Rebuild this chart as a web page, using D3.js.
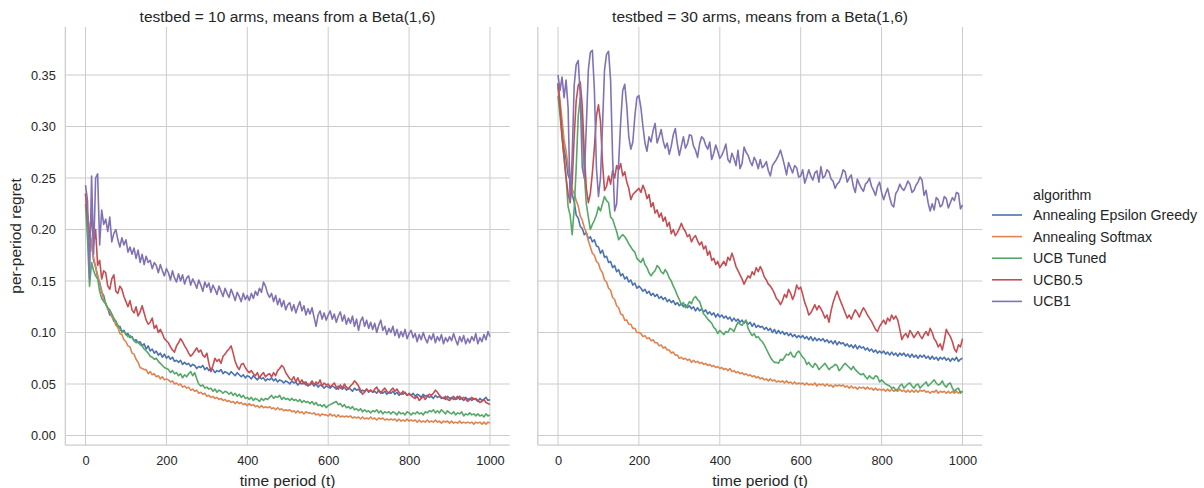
<!DOCTYPE html>
<html>
<head>
<meta charset="utf-8">
<script src="https://cdn.jsdelivr.net/npm/d3@7"></script>
<style>
  body { margin: 0; background: #fff; }
  svg { display: block; }
  text { font-family: "Liberation Sans", Arial, sans-serif; fill: #262626; }
</style>
</head>
<body>
<svg id="chart" width="1204" height="488"></svg>
<script>
// time periods at which the running regret is sampled (every 5 steps)
const periods = d3.range(0, 1001, 5);

const algorithms = ["Annealing Epsilon Greedy", "Annealing Softmax", "UCB Tuned", "UCB0.5", "UCB1"];
const panelTitles = ["testbed = 10 arms, means from a Beta(1,6)", "testbed = 30 arms, means from a Beta(1,6)"];
const xTicks = [0, 200, 400, 600, 800, 1000];
const yTicks = [0, 0.05, 0.10, 0.15, 0.20, 0.25, 0.30, 0.35];

// ---- 10 arms ----
const epsGreedy10 = [0.222,0.214,0.196,0.187,0.170,0.164,0.153,0.149,0.139,0.136,0.127,0.124,0.117,0.117,0.111,0.111,0.105,0.106,0.101,0.102,0.098,0.099,0.095,0.096,0.092,0.093,0.090,0.091,0.087,0.089,0.084,0.087,0.082,0.084,0.080,0.082,0.078,0.080,0.076,0.079,0.075,
  0.077,0.074,0.076,0.072,0.073,0.071,0.073,0.069,0.071,0.069,
  0.070,0.067,0.069,0.068,0.065,0.067,0.066,0.068,0.064,0.066,
  0.063,0.065,0.064,0.061,0.063,0.062,0.064,0.060,0.062,0.061,
  0.059,0.062,0.060,0.058,0.061,0.059,0.057,0.059,0.056,0.058,
  0.057,0.055,0.058,0.056,0.054,0.057,0.055,0.056,0.053,0.055,
  0.054,0.056,0.053,0.055,0.052,0.054,0.053,0.051,0.053,0.052,
  0.050,0.053,0.051,0.052,0.049,0.051,0.050,0.052,0.049,0.050,
  0.049,0.051,0.048,0.050,0.047,0.049,0.048,0.046,0.048,0.047,
  0.046,0.048,0.047,0.045,0.048,0.046,0.045,0.047,0.044,0.046,
  0.045,0.043,0.046,0.044,0.045,0.042,0.044,0.043,0.045,0.042,
  0.044,0.042,0.043,0.041,0.044,0.042,0.041,0.043,0.040,0.042,
  0.041,0.043,0.040,0.042,0.039,0.041,0.040,0.042,0.039,0.040,
  0.039,0.041,0.038,0.040,0.039,0.037,0.040,0.038,0.039,0.037,
  0.038,0.036,0.039,0.037,0.038,0.036,0.037,0.035,0.038,0.036,
  0.037,0.035,0.036,0.038,0.035,0.036,0.034,0.037,0.035,0.036,
  0.034,0.036,0.035,0.033,0.036,0.034,0.035,0.037,0.034,0.035];
const softmax10 = [0.235,0.214,0.201,0.184,0.173,0.163,0.156,0.147,0.141,0.131,0.129,0.122,0.121,0.115,0.113,0.107,0.105,0.099,0.098,0.093,0.091,0.087,0.086,0.080,0.079,0.074,0.071,0.066,0.065,0.064,0.064,0.060,0.062,0.059,0.060,0.057,0.058,0.055,0.057,0.054,0.055,
  0.054,0.052,0.053,0.050,0.051,0.049,0.050,0.047,0.048,0.046,
  0.047,0.044,0.045,0.043,0.044,0.041,0.042,0.040,0.041,0.038,
  0.039,0.037,0.038,0.036,0.037,0.035,0.036,0.034,0.035,0.033,
  0.034,0.032,0.033,0.031,0.033,0.031,0.032,0.030,0.031,0.029,
  0.031,0.029,0.030,0.028,0.029,0.027,0.029,0.027,0.028,0.027,
  0.028,0.026,0.027,0.025,0.027,0.025,0.026,0.024,0.025,0.024,
  0.025,0.023,0.024,0.022,0.024,0.022,0.023,0.021,0.023,0.022,
  0.022,0.021,0.022,0.020,0.021,0.019,0.021,0.020,0.020,0.019,
  0.021,0.019,0.020,0.018,0.020,0.018,0.019,0.018,0.019,0.018,
  0.019,0.017,0.018,0.017,0.018,0.016,0.018,0.016,0.017,0.016,
  0.018,0.016,0.017,0.015,0.017,0.016,0.017,0.015,0.016,0.015,
  0.016,0.015,0.016,0.014,0.016,0.014,0.015,0.014,0.016,0.014,
  0.015,0.014,0.015,0.013,0.015,0.013,0.014,0.013,0.015,0.013,
  0.014,0.013,0.015,0.013,0.014,0.012,0.014,0.013,0.014,0.012,
  0.014,0.012,0.013,0.012,0.014,0.012,0.013,0.012,0.013,0.012,
  0.013,0.011,0.013,0.012,0.013,0.011,0.013,0.011,0.013,0.012];
const ucbTuned10 = [0.225,0.190,0.145,0.168,0.160,0.155,0.152,0.140,0.133,0.130,0.128,0.124,0.122,0.118,0.114,0.111,0.107,0.104,0.100,0.101,0.098,0.096,0.097,0.095,0.092,0.090,0.091,0.088,0.087,0.084,0.082,0.080,0.077,0.076,0.074,0.075,0.072,0.070,0.068,0.066,0.065,
  0.064,0.061,0.063,0.060,0.061,0.058,0.060,0.056,0.059,0.057,
  0.060,0.062,0.058,0.061,0.055,0.050,0.048,0.049,0.046,0.047,
  0.045,0.046,0.043,0.045,0.042,0.044,0.043,0.041,0.043,0.042,
  0.040,0.042,0.039,0.041,0.038,0.040,0.037,0.039,0.036,0.037,
  0.035,0.037,0.034,0.036,0.035,0.033,0.036,0.034,0.036,0.035,
  0.037,0.039,0.036,0.038,0.037,0.039,0.035,0.037,0.035,0.036,
  0.034,0.036,0.034,0.035,0.033,0.035,0.032,0.034,0.032,0.033,
  0.031,0.033,0.030,0.032,0.029,0.030,0.028,0.030,0.027,0.029,
  0.030,0.031,0.032,0.033,0.030,0.031,0.028,0.030,0.027,0.028,
  0.026,0.028,0.025,0.026,0.024,0.026,0.023,0.025,0.023,0.024,
  0.022,0.024,0.023,0.025,0.022,0.024,0.021,0.023,0.022,0.023,
  0.021,0.023,0.022,0.020,0.023,0.021,0.022,0.020,0.023,0.022,
  0.020,0.022,0.021,0.023,0.021,0.022,0.020,0.023,0.022,0.024,
  0.023,0.025,0.022,0.024,0.022,0.025,0.023,0.021,0.024,0.022,
  0.021,0.023,0.020,0.022,0.021,0.023,0.019,0.021,0.020,0.022,
  0.020,0.021,0.019,0.021,0.019,0.020,0.018,0.021,0.019,0.020];
const ucbHalf10 = [0.235,0.210,0.190,0.215,0.185,0.200,0.165,0.170,0.152,0.160,0.158,0.145,0.142,0.152,0.156,0.140,0.138,0.145,0.142,0.135,0.130,0.125,0.131,0.122,0.119,0.125,0.116,0.120,0.126,0.119,0.112,0.108,0.110,0.114,0.104,0.107,0.100,0.103,0.099,0.094,0.092,
  0.090,0.086,0.083,0.081,0.087,0.090,0.094,0.091,0.087,0.084,
  0.080,0.077,0.079,0.082,0.085,0.081,0.083,0.078,0.076,0.080,
  0.070,0.062,0.068,0.075,0.072,0.074,0.070,0.077,0.079,0.082,
  0.084,0.087,0.080,0.072,0.067,0.064,0.069,0.070,0.066,0.063,
  0.061,0.063,0.060,0.058,0.061,0.056,0.059,0.061,0.057,0.059,
  0.060,0.057,0.061,0.058,0.063,0.065,0.068,0.066,0.061,0.058,
  0.055,0.054,0.057,0.052,0.056,0.051,0.054,0.050,0.052,0.048,
  0.050,0.053,0.049,0.052,0.050,0.054,0.048,0.051,0.049,0.050,
  0.047,0.049,0.051,0.047,0.045,0.049,0.046,0.050,0.047,0.045,
  0.048,0.050,0.053,0.051,0.048,0.044,0.040,0.042,0.045,0.043,
  0.044,0.042,0.045,0.047,0.043,0.041,0.044,0.046,0.043,0.041,
  0.044,0.046,0.043,0.045,0.042,0.040,0.043,0.041,0.039,0.041,
  0.039,0.037,0.036,0.038,0.034,0.036,0.038,0.035,0.038,0.040,
  0.039,0.041,0.044,0.042,0.039,0.037,0.036,0.038,0.035,0.034,
  0.036,0.038,0.035,0.036,0.038,0.036,0.037,0.035,0.033,0.035,
  0.037,0.035,0.036,0.034,0.032,0.033,0.035,0.032,0.031,0.030];
const ucb1_10 = [0.243,0.228,0.152,0.252,0.176,0.250,0.254,0.185,0.219,0.205,0.210,0.198,0.212,0.188,0.196,0.200,0.190,0.183,0.192,0.185,0.190,0.178,0.183,0.176,0.182,0.172,0.180,0.168,0.176,0.166,0.174,0.168,0.170,0.162,0.168,0.165,0.158,0.166,0.160,0.155,0.162,
  0.158,0.151,0.160,0.153,0.149,0.157,0.150,0.156,0.147,0.153,
  0.155,0.146,0.152,0.148,0.143,0.151,0.146,0.140,0.149,0.144,
  0.148,0.139,0.146,0.142,0.137,0.145,0.140,0.135,0.143,0.138,
  0.134,0.142,0.137,0.131,0.139,0.135,0.130,0.138,0.132,0.136,
  0.131,0.138,0.133,0.140,0.136,0.143,0.139,0.149,0.145,0.138,
  0.134,0.138,0.130,0.136,0.127,0.133,0.125,0.131,0.122,0.127,
  0.129,0.121,0.127,0.119,0.125,0.130,0.121,0.126,0.117,0.123,
  0.118,0.124,0.115,0.106,0.117,0.121,0.113,0.119,0.112,0.117,
  0.121,0.113,0.118,0.110,0.116,0.120,0.111,0.117,0.108,0.114,
  0.109,0.116,0.106,0.113,0.102,0.111,0.115,0.106,0.112,0.104,
  0.110,0.103,0.109,0.100,0.107,0.112,0.102,0.106,0.098,0.104,
  0.100,0.106,0.097,0.103,0.095,0.101,0.096,0.103,0.094,0.099,
  0.102,0.095,0.099,0.091,0.098,0.093,0.100,0.094,0.090,0.097,
  0.093,0.099,0.090,0.096,0.092,0.098,0.089,0.095,0.091,0.096,
  0.092,0.099,0.093,0.088,0.096,0.091,0.097,0.089,0.094,0.090,
  0.096,0.092,0.099,0.089,0.095,0.091,0.098,0.093,0.101,0.096];

// ---- 30 arms ----
const epsGreedy30 = [0.340,0.317,0.300,0.278,0.268,0.253,0.248,0.234,0.227,0.214,0.211,0.203,0.201,0.195,0.197,0.191,0.193,0.188,0.190,0.184,0.183,0.177,0.180,0.173,0.174,0.168,0.169,0.163,0.165,0.159,0.161,0.155,0.157,0.152,0.154,0.149,0.151,0.146,0.148,0.143,0.145,
  0.143,0.140,0.142,0.138,0.140,0.136,0.138,0.135,0.137,0.133,
  0.135,0.132,0.134,0.130,0.132,0.129,0.131,0.127,0.129,0.126,
  0.128,0.125,0.127,0.124,0.126,0.123,0.125,0.121,0.124,0.121,
  0.123,0.120,0.122,0.118,0.120,0.117,0.119,0.115,0.118,0.115,
  0.117,0.114,0.116,0.113,0.115,0.111,0.114,0.111,0.113,0.110,
  0.112,0.109,0.111,0.108,0.110,0.106,0.109,0.105,0.107,0.105,
  0.106,0.103,0.105,0.102,0.104,0.100,0.103,0.099,0.102,0.099,
  0.101,0.098,0.100,0.097,0.099,0.096,0.098,0.095,0.097,0.095,
  0.097,0.094,0.096,0.093,0.096,0.092,0.095,0.092,0.094,0.092,
  0.094,0.091,0.093,0.090,0.092,0.089,0.092,0.088,0.091,0.089,
  0.090,0.087,0.089,0.086,0.088,0.085,0.088,0.084,0.087,0.085,
  0.086,0.083,0.085,0.082,0.084,0.081,0.083,0.080,0.082,0.080,
  0.082,0.079,0.081,0.078,0.081,0.078,0.080,0.077,0.080,0.078,
  0.080,0.077,0.079,0.076,0.079,0.076,0.078,0.075,0.078,0.076,
  0.078,0.075,0.077,0.074,0.077,0.074,0.076,0.073,0.076,0.074,
  0.076,0.073,0.075,0.072,0.075,0.073,0.076,0.072,0.074,0.075];
const softmax30 = [0.342,0.325,0.306,0.287,0.276,0.261,0.249,0.239,0.235,0.228,0.223,0.213,0.209,0.202,0.197,0.189,0.183,0.177,0.175,0.169,0.167,0.161,0.158,0.151,0.149,0.143,0.141,0.134,0.132,0.126,0.124,0.118,0.117,0.112,0.112,0.108,0.108,0.104,0.104,0.100,0.100,
  0.099,0.096,0.097,0.094,0.095,0.092,0.093,0.090,0.090,0.087,
  0.088,0.085,0.086,0.083,0.083,0.080,0.081,0.078,0.078,0.075,
  0.076,0.074,0.075,0.073,0.074,0.071,0.073,0.071,0.072,0.070,
  0.071,0.069,0.070,0.068,0.069,0.067,0.068,0.066,0.067,0.065,
  0.066,0.064,0.065,0.063,0.065,0.062,0.063,0.061,0.062,0.060,
  0.061,0.059,0.060,0.058,0.059,0.057,0.058,0.056,0.057,0.055,
  0.056,0.054,0.055,0.053,0.055,0.053,0.054,0.052,0.053,0.052,
  0.053,0.051,0.053,0.051,0.052,0.050,0.052,0.050,0.051,0.050,
  0.051,0.049,0.051,0.049,0.050,0.049,0.051,0.048,0.050,0.049,
  0.050,0.048,0.050,0.048,0.049,0.047,0.049,0.048,0.049,0.048,
  0.049,0.047,0.048,0.046,0.048,0.046,0.047,0.045,0.047,0.046,
  0.047,0.045,0.047,0.045,0.046,0.044,0.046,0.044,0.045,0.044,
  0.045,0.043,0.045,0.043,0.045,0.043,0.044,0.043,0.045,0.043,
  0.044,0.042,0.044,0.042,0.044,0.042,0.044,0.042,0.044,0.043,
  0.044,0.042,0.043,0.041,0.043,0.042,0.044,0.041,0.043,0.042,
  0.043,0.041,0.043,0.041,0.043,0.041,0.043,0.041,0.043,0.042];
const ucbTuned30 = [0.330,0.310,0.290,0.270,0.250,0.222,0.214,0.195,0.220,0.260,0.310,0.328,0.300,0.255,0.225,0.212,0.200,0.205,0.209,0.214,0.222,0.218,0.225,0.232,0.228,0.226,0.212,0.210,0.204,0.198,0.190,0.193,0.195,0.193,0.190,0.186,0.183,0.180,0.178,0.172,0.170,
  0.168,0.172,0.166,0.163,0.158,0.155,0.158,0.160,0.165,0.163,
  0.159,0.157,0.161,0.158,0.153,0.150,0.145,0.141,0.136,0.132,
  0.127,0.129,0.124,0.126,0.130,0.128,0.133,0.135,0.132,0.130,
  0.124,0.118,0.116,0.113,0.111,0.109,0.105,0.103,0.099,0.102,
  0.100,0.098,0.101,0.100,0.104,0.103,0.101,0.106,0.110,0.108,
  0.107,0.110,0.112,0.104,0.100,0.097,0.099,0.095,0.096,0.093,
  0.091,0.088,0.084,0.080,0.076,0.073,0.071,0.071,0.070,0.074,
  0.073,0.076,0.079,0.078,0.081,0.077,0.076,0.080,0.082,0.079,
  0.076,0.074,0.069,0.071,0.068,0.066,0.070,0.068,0.064,0.066,
  0.068,0.070,0.067,0.064,0.066,0.067,0.069,0.068,0.063,0.065,
  0.068,0.070,0.068,0.066,0.064,0.067,0.064,0.062,0.060,0.059,
  0.060,0.057,0.055,0.058,0.056,0.055,0.058,0.057,0.052,0.054,
  0.052,0.050,0.049,0.048,0.046,0.047,0.044,0.045,0.048,0.050,
  0.046,0.048,0.050,0.051,0.048,0.046,0.049,0.050,0.046,0.048,
  0.050,0.052,0.048,0.050,0.052,0.054,0.051,0.049,0.050,0.053,
  0.049,0.047,0.050,0.051,0.046,0.043,0.045,0.046,0.041,0.043];
const ucbHalf30 = [0.342,0.320,0.290,0.270,0.250,0.235,0.226,0.245,0.290,0.325,0.340,0.343,0.320,0.275,0.240,0.226,0.235,0.255,0.280,0.310,0.321,0.305,0.265,0.238,0.242,0.252,0.244,0.257,0.250,0.262,0.258,0.264,0.252,0.256,0.246,0.240,0.229,0.234,0.236,0.238,0.240,
  0.236,0.243,0.238,0.230,0.234,0.222,0.226,0.216,0.219,0.212,
  0.216,0.208,0.212,0.203,0.207,0.196,0.200,0.194,0.197,0.201,
  0.206,0.201,0.198,0.193,0.195,0.188,0.192,0.194,0.189,0.185,
  0.188,0.181,0.184,0.175,0.179,0.170,0.172,0.166,0.169,0.163,
  0.166,0.169,0.165,0.173,0.170,0.177,0.171,0.164,0.160,0.156,
  0.152,0.147,0.151,0.155,0.153,0.159,0.156,0.163,0.159,0.164,
  0.160,0.154,0.151,0.147,0.145,0.142,0.138,0.133,0.131,0.127,
  0.131,0.137,0.134,0.142,0.138,0.132,0.137,0.146,0.142,0.144,
  0.137,0.129,0.124,0.117,0.119,0.123,0.127,0.122,0.126,0.123,
  0.119,0.114,0.117,0.110,0.121,0.129,0.135,0.140,0.134,0.129,
  0.124,0.119,0.114,0.117,0.113,0.118,0.122,0.119,0.115,0.120,
  0.124,0.121,0.117,0.114,0.111,0.107,0.103,0.101,0.106,0.109,
  0.112,0.108,0.114,0.111,0.117,0.113,0.116,0.112,0.103,0.093,
  0.097,0.099,0.095,0.102,0.099,0.095,0.098,0.101,0.097,0.094,
  0.098,0.101,0.097,0.104,0.100,0.094,0.091,0.086,0.089,0.083,
  0.092,0.103,0.099,0.096,0.091,0.084,0.081,0.088,0.086,0.094];
const ucb1_30 = [0.350,0.335,0.348,0.328,0.345,0.318,0.228,0.270,0.340,0.360,0.364,0.330,0.260,0.250,0.300,0.355,0.372,0.374,0.335,0.260,0.232,0.250,0.300,0.355,0.370,0.373,0.345,0.270,0.218,0.225,0.265,0.305,0.335,0.341,0.320,0.290,0.278,0.285,0.310,0.328,0.330,
  0.318,0.300,0.284,0.276,0.290,0.285,0.296,0.303,0.284,0.290,
  0.297,0.286,0.279,0.284,0.273,0.281,0.292,0.298,0.283,0.272,
  0.281,0.290,0.279,0.283,0.292,0.291,0.281,0.277,0.270,0.283,
  0.290,0.288,0.282,0.278,0.285,0.268,0.274,0.282,0.276,0.269,
  0.272,0.277,0.283,0.268,0.265,0.274,0.269,0.262,0.277,0.259,
  0.264,0.280,0.275,0.272,0.266,0.262,0.270,0.266,0.259,0.268,
  0.260,0.262,0.266,0.257,0.252,0.262,0.265,0.268,0.272,0.277,
  0.270,0.262,0.253,0.265,0.260,0.255,0.262,0.260,0.251,0.252,
  0.258,0.245,0.251,0.258,0.252,0.248,0.255,0.257,0.246,0.261,
  0.250,0.252,0.258,0.256,0.249,0.247,0.240,0.244,0.246,0.251,
  0.258,0.256,0.246,0.250,0.253,0.242,0.236,0.249,0.244,0.240,
  0.237,0.244,0.246,0.250,0.242,0.238,0.233,0.242,0.246,0.236,
  0.229,0.235,0.240,0.231,0.224,0.222,0.235,0.238,0.244,0.240,
  0.238,0.242,0.247,0.244,0.236,0.238,0.243,0.246,0.251,0.248,
  0.233,0.238,0.226,0.218,0.225,0.219,0.231,0.229,0.222,0.224,
  0.232,0.230,0.221,0.226,0.231,0.228,0.236,0.235,0.220,0.224];

const panels = [
  { title: panelTitles[0], series: [epsGreedy10, softmax10, ucbTuned10, ucbHalf10, ucb1_10], x0: 65.3, x1: 509.8 },
  { title: panelTitles[1], series: [epsGreedy30, softmax30, ucbTuned30, ucbHalf30, ucb1_30], x0: 537.8, x1: 982.3 }
];
const colors = ["#4c72b0", "#dd8452", "#55a868", "#c44e52", "#8172b3"];
const plotTop = 27, plotBottom = 445;
const gridColor = "#cccccc";
const tickFont = 12.8, labelFont = 15.5, legendFont = 14.2;

const svg = d3.select("#chart");
const y = d3.scaleLinear().domain([-0.00922, 0.3966]).range([plotBottom, plotTop]);

panels.forEach((p, pi) => {
  const x = d3.scaleLinear().domain([-49.95, 1048.95]).range([p.x0, p.x1]);
  const g = svg.append("g");

  // grid
  g.append("g").selectAll("line").data(yTicks).join("line")
    .attr("x1", p.x0).attr("x2", p.x1)
    .attr("y1", d => y(d)).attr("y2", d => y(d))
    .attr("stroke", gridColor).attr("stroke-width", 1);
  g.append("g").selectAll("line").data(xTicks).join("line")
    .attr("x1", d => x(d)).attr("x2", d => x(d))
    .attr("y1", plotTop).attr("y2", plotBottom)
    .attr("stroke", gridColor).attr("stroke-width", 1);

  // series
  const clipId = "clip" + pi;
  svg.append("clipPath").attr("id", clipId).append("rect")
    .attr("x", p.x0).attr("y", plotTop).attr("width", p.x1 - p.x0).attr("height", plotBottom - plotTop);
  const line = d3.line().x((d, i) => x(periods[i])).y(d => y(d));
  g.append("g").attr("clip-path", `url(#${clipId})`)
    .selectAll("path").data(p.series).join("path")
    .attr("d", line)
    .attr("fill", "none")
    .attr("stroke", (d, i) => colors[i])
    .attr("stroke-width", 1.6)
    .attr("stroke-linejoin", "round");

  // spines (left and bottom only)
  g.append("line").attr("x1", p.x0).attr("x2", p.x0).attr("y1", plotTop).attr("y2", plotBottom)
    .attr("stroke", gridColor).attr("stroke-width", 1.25);
  g.append("line").attr("x1", p.x0).attr("x2", p.x1).attr("y1", plotBottom).attr("y2", plotBottom)
    .attr("stroke", gridColor).attr("stroke-width", 1.25);

  // x tick labels
  const xAxis = g.append("g").attr("transform", `translate(0,${plotBottom})`)
    .call(d3.axisBottom(x).tickValues(xTicks).tickSize(0).tickPadding(11).tickFormat(d3.format("d")));
  xAxis.select(".domain").remove();
  xAxis.selectAll("text").attr("font-size", tickFont).attr("fill", "#262626")
    .style("font-family", '"Liberation Sans", Arial, sans-serif');

  // y tick labels on the first panel only
  if (pi === 0) {
    const yAxis = g.append("g").attr("transform", `translate(${p.x0},0)`)
      .call(d3.axisLeft(y).tickValues(yTicks).tickSize(0).tickPadding(9.5).tickFormat(d3.format(".2f")));
    yAxis.select(".domain").remove();
    yAxis.selectAll("text").attr("font-size", tickFont).attr("fill", "#262626")
      .style("font-family", '"Liberation Sans", Arial, sans-serif');
  }

  // panel title and x label
  g.append("text").attr("x", (p.x0 + p.x1) / 2).attr("y", 22)
    .attr("text-anchor", "middle").attr("font-size", labelFont).text(p.title);
  g.append("text").attr("x", (p.x0 + p.x1) / 2).attr("y", 486)
    .attr("text-anchor", "middle").attr("font-size", labelFont).text("time period (t)");
});

// y label
svg.append("text").attr("transform", `translate(20.5,${(plotTop + plotBottom) / 2}) rotate(-90)`)
  .attr("text-anchor", "middle").attr("font-size", labelFont).text("per-period regret");

// legend: the hue name heads the list as a plain entry
const legend = svg.append("g");
legend.append("text").attr("x", 1033).attr("y", 199.5).attr("font-size", legendFont).text("algorithm");
algorithms.forEach((name, i) => {
  const ly = 215 + i * 21.6;
  legend.append("line").attr("x1", 992).attr("x2", 1022).attr("y1", ly).attr("y2", ly)
    .attr("stroke", colors[i]).attr("stroke-width", 1.6);
  legend.append("text").attr("x", 1033).attr("y", ly + 5).attr("font-size", legendFont).text(name);
});
</script>
</body>
</html>
